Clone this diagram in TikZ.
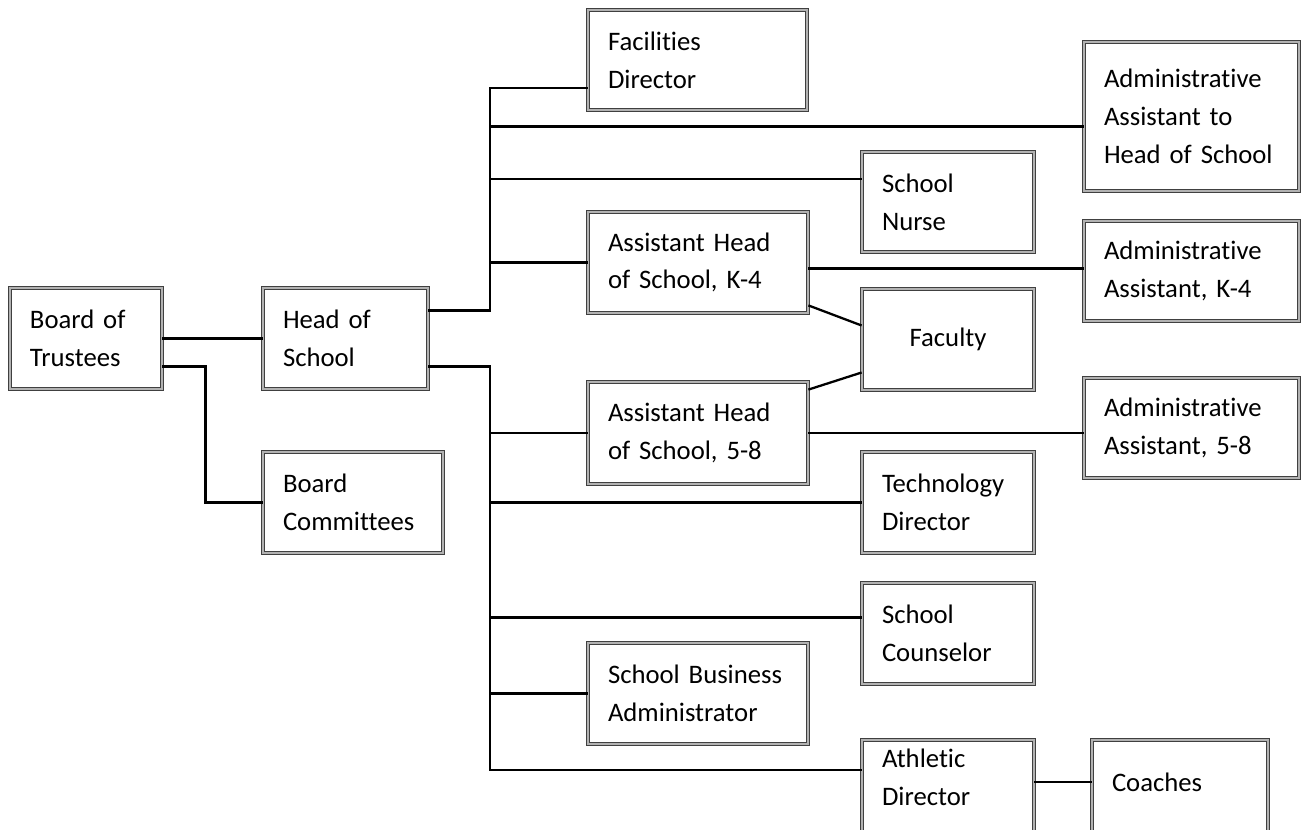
\documentclass[tikz,border=0pt]{standalone}
\usepackage{fontspec}
\setmainfont{Carlito}[Ligatures=NoCommon]
\usetikzlibrary{positioning, calc}

\begin{document}
\begin{tikzpicture}[x=0.02cm, y=-0.02cm,
        box/.style 2 args={draw=black!75, line width=0.45pt,
                    double=gray!60, double distance=1pt,
                    text width=#1*0.02cm-0.8cm, minimum height=#2*0.02cm,
                    inner xsep=0.4cm, inner ysep=0pt, align=left,
                    font=\fontsize{15.2}{21.5}\selectfont},
        link/.style={line width=1.3pt, black}
      ]
        \clip (0,0) rectangle (1315,829);
        \node[box={152}{101}] (bot) at (86,338.5) {Board of\\Trustees};
        \node[box={165}{101}] (hos) at (345.5,338.5) {Head of\\School};
        \node[box={180}{101}] (bcom) at (353,502.5) {Board\\Committees};
        \node[box={219}{100}] (facdir) at (697.5,60) {Facilities\\Director};
        \node[box={215}{149}] (aahs) at (1191.5,116.5)
              {Administrative\\Assistant to\\Head of School};
        \node[box={172}{100}] (nurse) at (948,202) {School\\Nurse};
        \node[box={220}{101}] (ahk4) at (698,262.5) {Assistant Head\\of School, K-4};
        \node[box={215}{100}] (aak4) at (1191.5,271) {Administrative\\Assistant, K-4};
        \node[box={172}{101}, align=center] (faculty) at (948,339.5) {Faculty};
        \node[box={220}{102}] (ah58) at (698,433) {Assistant Head\\of School, 5-8};
        \node[box={215}{100}] (aa58) at (1191.5,428) {Administrative\\Assistant, 5-8};
        \node[box={172}{101}] (tech) at (948,502.5) {Technology\\Director};
        \node[box={172}{101}] (couns) at (948,633.5) {School\\Counselor};
        \node[box={220}{101}] (sba) at (698,693.5) {School Business\\Administrator};
        \node[box={172}{112}] (athl) at (948,796) {Athletic\\Director\\\mbox{}};
        \node[box={176}{122}] (coach) at (1180,801) {Coaches\\\mbox{}};

        \coordinate (up) at (490,88);
        \coordinate (dn) at (490,770);

        \draw[link] (bot) -- (hos);
        \draw[link] (bot.east) ++(0,28) -- ++(43,0) |- (bcom.west);
        % upper branch
        \draw[link] (hos.east) ++(0,-28) -| (up) -- ($(facdir.west)+(0,28)$);
        \draw[link] ($(aahs.west)+(0,10)$) -| (up);
        \draw[link] ($(nurse.west)+(0,-23)$) -| (up);
        \draw[link] (ahk4.west) -| (up);
        % lower branch
        \draw[link] (hos.east) ++(0,28) -| (dn) -- (dn -| athl.west);
        \draw[link] (ah58.west) -| (dn);
        \draw[link] (tech.west) -| (dn);
        \draw[link] ($(couns.west)+(0,-16)$) -| (dn);
        \draw[link] (sba.west) -| (dn);
        % assistants and faculty
        \draw[link] ($(ahk4.east)+(0,6)$) coordinate (k4r) -- (k4r -| aak4.west);
        \draw[link] (ah58.east) -- (ah58.east -| aa58.west);
        \draw[link] ($(ahk4.south east)+(0,-8)$) -- ($(faculty.west)+(0,-14)$);
        \draw[link] ($(ah58.north east)+(0,8)$) -- ($(faculty.west)+(0,33)$);
        \draw[link] (athl.east |- 0,782) -- (coach.west |- 0,782);
      \end{tikzpicture}
\end{document}
